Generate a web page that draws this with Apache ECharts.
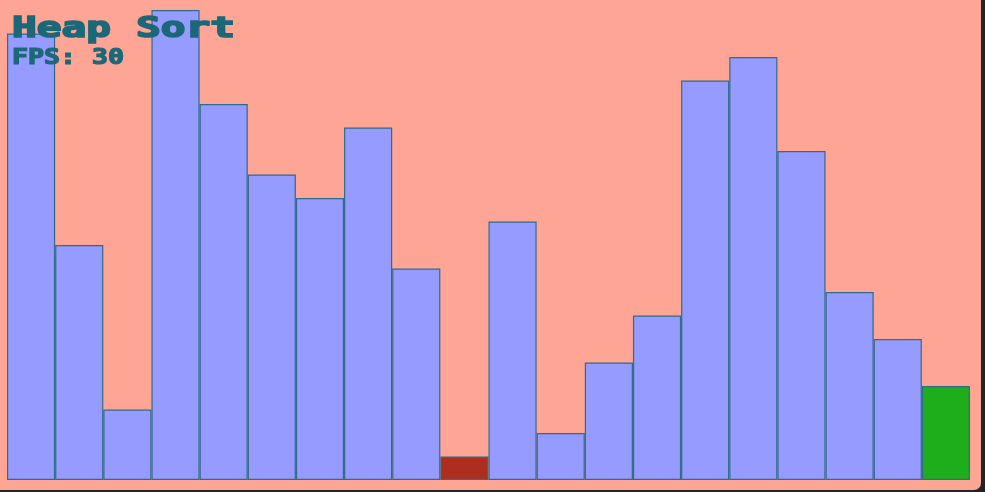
<!DOCTYPE html>
<html>
<head>
<meta charset="utf-8">
<script src="https://cdn.jsdelivr.net/npm/echarts@6/dist/echarts.min.js"></script>
<style>
html,body{margin:0;padding:0;background:#21252b;}
#chart{width:985px;height:492px;}
</style>
</head>
<body>
<div id="chart"></div>
<script>
// Data
const categories = ['1','2','3','4','5','6','7','8','9','10','11','12','13','14','15','16','17','18','19','20'];
const values = [19,10,3,20,16,13,12,15,9,1,11,2,5,7,17,18,14,8,6,4];
const barStates = ['normal','normal','normal','normal','normal','normal','normal','normal','normal','active','normal','normal','normal','normal','normal','normal','normal','normal','normal','done'];
const titleText = 'Heap Sort';
const fpsText = 'FPS: 30';

const stateColors = { normal: '#959bff', active: '#ae2e1d', done: '#1fae1b' };

const chart = echarts.init(document.getElementById('chart'), null, { renderer: 'canvas' });
chart.setOption({
  backgroundColor: '#21252b',
  animation: false,
  grid: { left: 7, right: 15, top: 10, bottom: 12, containLabel: false },
  xAxis: {
    type: 'category', data: categories, show: false, boundaryGap: true
  },
  yAxis: { type: 'value', min: 0, max: 20, show: false },
  graphic: [
    { type: 'rect', z: -10, shape: { x: 0, y: 0, width: 981, height: 490, r: [0, 0, 7, 0] },
      style: { fill: '#ffa596' }, silent: true },
    { type: 'text', z: 100, x: 12, y: 15, scaleX: 1.47, scaleY: 1.02,
      style: { text: titleText, x: 0, y: 0, fill: '#1b6878', stroke: '#1b6878', lineWidth: 1.6,
        font: 'bold 28px "DejaVu Sans Mono"', align: 'left', verticalAlign: 'top' } },
    { type: 'text', z: 100, x: 12, y: 48, scaleX: 1.33, scaleY: 1.02,
      style: { text: fpsText, x: 0, y: 0, fill: '#1b6878', stroke: '#1b6878', lineWidth: 1.2,
        font: 'bold 20px "DejaVu Sans Mono"', align: 'left', verticalAlign: 'top' } }
  ],
  series: [{
    type: 'bar',
    barCategoryGap: 0,
    z: 2,
    data: values.map((v, i) => ({
      value: v,
      itemStyle: { color: stateColors[barStates[i]] }
    })),
    itemStyle: { borderColor: '#2f6c8a', borderWidth: 1.2 }
  }]
});
</script>
</body>
</html>
